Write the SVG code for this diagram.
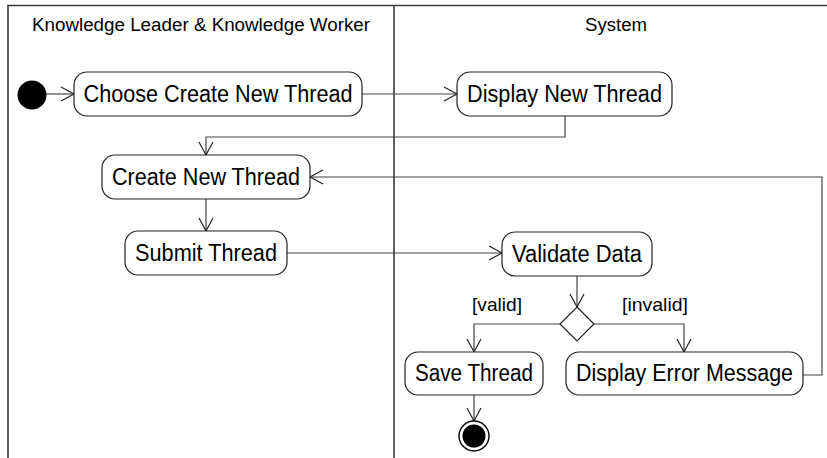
<svg xmlns="http://www.w3.org/2000/svg" width="827" height="458" viewBox="0 0 827 458">
<style>
  .frame{fill:none;stroke:#3a3a3a;stroke-width:1.6}
  .act{fill:#fff;stroke:#222;stroke-width:1.2}
  .lbl{font-family:"Liberation Sans",Arial,sans-serif;font-size:23px;fill:#000;text-anchor:middle}
  .hdr{font-family:"Liberation Sans",Arial,sans-serif;font-size:18px;fill:#000;text-anchor:middle}
  .grd{font-family:"Liberation Sans",Arial,sans-serif;font-size:19px;fill:#000;text-anchor:middle}
  .edge{fill:none;stroke:#444;stroke-width:1.2;marker-end:url(#arr)}
</style>
<defs>
  <marker id="arr" markerUnits="userSpaceOnUse" markerWidth="16" markerHeight="16" refX="13" refY="7" orient="auto" overflow="visible">
    <path d="M0,0 L13,7 L0,14" fill="none" stroke="#222" stroke-width="1.2"/>
  </marker>
</defs>
<rect width="827" height="458" fill="#fff"/>
<g id="swimlanes">
  <path class="frame" d="M8,458 V5.5 H827 M394,5.5 V458"/>
  <text class="hdr" x="201" y="31" textLength="338" lengthAdjust="spacingAndGlyphs">Knowledge Leader &amp; Knowledge Worker</text>
  <text class="hdr" x="616" y="31" textLength="62" lengthAdjust="spacingAndGlyphs">System</text>
</g>
<g id="connectors">
  <path class="edge" d="M46,94 H74"/>
  <path class="edge" d="M362,94 H457"/>
  <path class="edge" d="M565,116 V137 H206 V155"/>
  <path class="edge" d="M206,199 V231"/>
  <path class="edge" d="M287,253 H502"/>
  <path class="edge" d="M577,276 V307"/>
  <path class="edge" d="M560,324 H474 V352"/>
  <path class="edge" d="M594,324 H684 V352"/>
  <path class="edge" d="M803,375 H822 V177 H310"/>
  <path class="edge" d="M474,395 V421"/>
  <text class="grd" x="497" y="311" textLength="50" lengthAdjust="spacingAndGlyphs">[valid]</text>
  <text class="grd" x="655" y="311" textLength="66" lengthAdjust="spacingAndGlyphs">[invalid]</text>
</g>
<g id="initial">
  <circle cx="32" cy="95" r="14.5" fill="#000"/>
</g>
<g id="choose">
  <rect class="act" x="74" y="72" width="288" height="44" rx="13"/>
  <text class="lbl" x="218" y="102" textLength="269" lengthAdjust="spacingAndGlyphs">Choose Create New Thread</text>
</g>
<g id="displayNew">
  <rect class="act" x="457" y="72" width="215" height="44" rx="13"/>
  <text class="lbl" x="564.5" y="102" textLength="195" lengthAdjust="spacingAndGlyphs">Display New Thread</text>
</g>
<g id="create">
  <rect class="act" x="102" y="155" width="208" height="44" rx="13"/>
  <text class="lbl" x="206" y="185" textLength="188" lengthAdjust="spacingAndGlyphs">Create New Thread</text>
</g>
<g id="submit">
  <rect class="act" x="125" y="231" width="162" height="44" rx="13"/>
  <text class="lbl" x="206" y="261" textLength="142" lengthAdjust="spacingAndGlyphs">Submit Thread</text>
</g>
<g id="validate">
  <rect class="act" x="502" y="232" width="150" height="44" rx="13"/>
  <text class="lbl" x="577" y="262" textLength="130" lengthAdjust="spacingAndGlyphs">Validate Data</text>
</g>
<g id="decision">
  <path class="act" d="M577,307 L594,324 L577,341 L560,324 Z"/>
</g>
<g id="save">
  <rect class="act" x="405" y="352" width="138" height="43" rx="13"/>
  <text class="lbl" x="474" y="381" textLength="118" lengthAdjust="spacingAndGlyphs">Save Thread</text>
</g>
<g id="displayError">
  <rect class="act" x="566" y="352" width="237" height="43" rx="13"/>
  <text class="lbl" x="684.5" y="381" textLength="217" lengthAdjust="spacingAndGlyphs">Display Error Message</text>
</g>
<g id="final">
  <circle cx="474" cy="436" r="15" fill="#fff" stroke="#000" stroke-width="1.4"/>
  <circle cx="474" cy="436" r="11.5" fill="#000"/>
</g>
</svg>
